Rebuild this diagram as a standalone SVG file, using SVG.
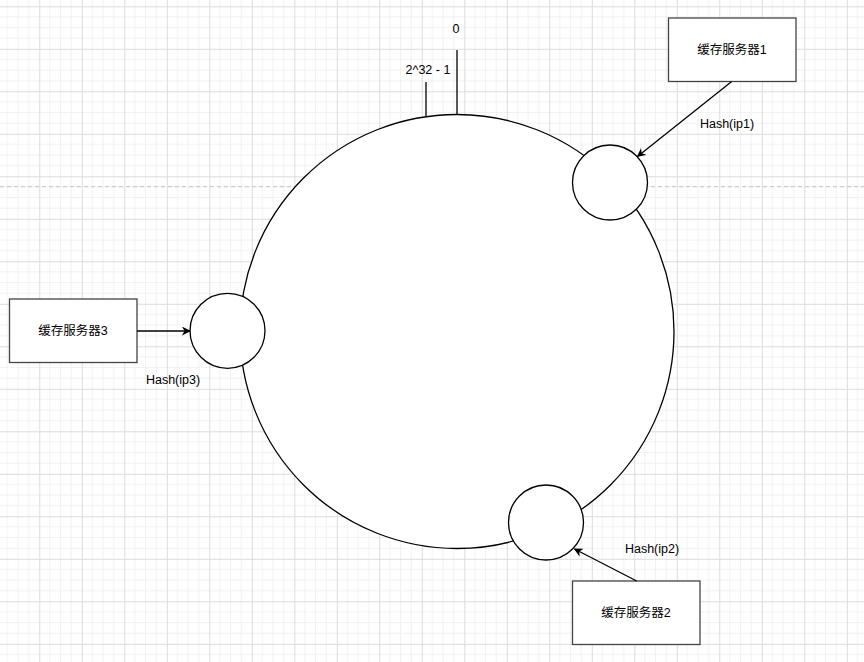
<svg xmlns="http://www.w3.org/2000/svg" width="864" height="662" viewBox="0 0 864 662">
<defs>
<pattern id="grid" patternUnits="userSpaceOnUse" x="39.3" y="6.3" width="42.5" height="42.5">
<path d="M10.625 0V42.5M21.25 0V42.5M31.875 0V42.5M0 10.625H42.5M0 21.25H42.5M0 31.875H42.5" stroke="#f1f1f1" stroke-width="1" fill="none"/>
<path d="M0.5 0V42.5M0 0.5H42.5" stroke="#dcdcdc" stroke-width="1" fill="none"/>
</pattern>
<marker id="arr" viewBox="0 0 10 10" refX="9" refY="5" markerWidth="9" markerHeight="9" orient="auto" markerUnits="userSpaceOnUse">
<path d="M0 0 L10 5 L0 10 L3 5 Z" fill="#000"/>
</marker>
<style>
.shape{fill:#fff;stroke:#000;stroke-width:1.3}
.box{fill:#fff;stroke:#444;stroke-width:1.3}
.txt{font-family:"Liberation Sans","Noto Sans CJK SC",sans-serif;font-size:12.5px;fill:#000;text-anchor:middle;dominant-baseline:central}
.edge{stroke:#000;stroke-width:1.3;fill:none}
</style>
</defs>
<rect width="864" height="662" fill="#fff"/>
<rect width="864" height="662" fill="url(#grid)"/>
<line x1="0" y1="186.7" x2="864" y2="186.7" stroke="#c4c4c4" stroke-width="1" stroke-dasharray="4 3"/>
<g id="ring">
<circle class="shape" cx="457" cy="331.5" r="217"/>
<line class="edge" x1="457" y1="114.5" x2="457" y2="50"/>
<line class="edge" x1="426" y1="116" x2="426" y2="82"/>
<text class="txt" x="456" y="29">0</text>
<text class="txt" x="428" y="70">2^32 - 1</text>
</g>
<g id="node-hash1"><circle class="shape" cx="610" cy="182.5" r="37.5"/></g>
<g id="node-hash2"><circle class="shape" cx="546" cy="522.5" r="37.5"/></g>
<g id="node-hash3"><circle class="shape" cx="227.5" cy="330.8" r="37.5"/></g>
<g id="server1"><rect class="box" x="668.5" y="18" width="127.5" height="63.5"/><text class="txt" x="732" y="50">缓存服务器1</text></g>
<g id="server2"><rect class="box" x="572.5" y="581" width="127.5" height="63.5"/><text class="txt" x="636" y="613">缓存服务器2</text></g>
<g id="server3"><rect class="box" x="9.5" y="299" width="127.5" height="63.5"/><text class="txt" x="73" y="331">缓存服务器3</text></g>
<g id="connectors">
<line class="edge" x1="731.7" y1="81.5" x2="637.5" y2="156.5" marker-end="url(#arr)"/>
<line class="edge" x1="636.7" y1="581" x2="574.5" y2="549" marker-end="url(#arr)"/>
<line class="edge" x1="137" y1="331" x2="190" y2="331" marker-end="url(#arr)"/>
<text class="txt" x="727" y="124">Hash(ip1)</text>
<text class="txt" x="652" y="549">Hash(ip2)</text>
<text class="txt" x="173" y="380">Hash(ip3)</text>
</g>
</svg>
